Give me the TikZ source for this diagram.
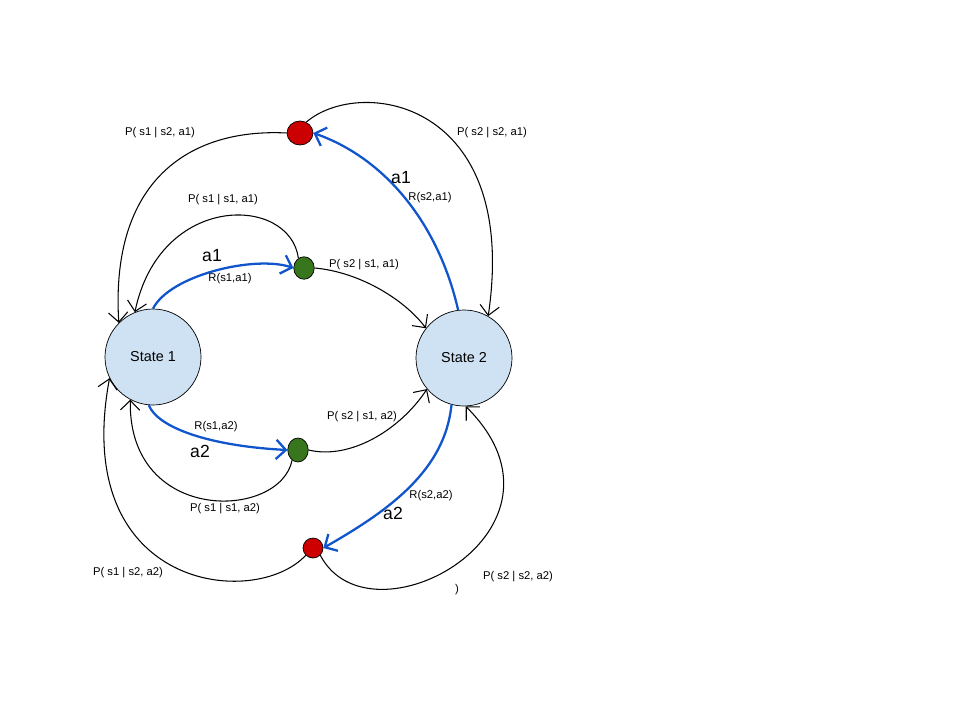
\documentclass[tikz,border=0pt]{standalone}
\usepackage{fontspec}
\setmainfont{Liberation Sans}
\usepackage{tikz}
\usetikzlibrary{arrows.meta}
\usetikzlibrary{shapes.geometric}
\definecolor{statefill}{HTML}{CFE2F3}
\definecolor{chancered}{HTML}{CC0000}
\definecolor{chancegreen}{HTML}{38761D}
\definecolor{actionblue}{HTML}{1155CC}
\tikzstyle{state}=[circle,fill=statefill,draw,minimum size=19.2mm,inner sep=0pt,font=\fontsize{8.2}{10}\selectfont]
\tikzstyle{chance}=[ellipse,draw,inner sep=0pt]
\tikzstyle{edge} = [draw,line width=0.6pt,-{Straight Barb[length=5.5pt,width=11pt]}]
\tikzstyle{reward} = [draw,line width=1.3pt,actionblue,-{Straight Barb[length=5.5pt,width=11pt]}]
\tikzstyle{weight} = [font=\fontsize{6.4}{7}\selectfont,inner sep=0pt]
\tikzstyle{action} = [font=\fontsize{10}{12}\selectfont,inner sep=0pt]

\begin{document}
\begin{tikzpicture}[x=0.2mm,y=-0.2mm]
    \useasboundingbox (0,0) rectangle (960,720);
    % First we draw the states
    \foreach \pos/\name/\label in {{(153,357)/s1/State 1}, {(464,358)/s2/State 2}}
        \node[state] (\name) at \pos {\label};

    % Then the chance nodes, one for each state and action
    \foreach \pos/\name/\col/\w/\h in {{(300,133)/rtop/chancered/5.2/4.8}, {(304,268)/gtop/chancegreen/4.1/4.5}, {(298,450)/gbot/chancegreen/4.1/4.8}, {(313,548)/rbot/chancered/4/4}}
        \node[chance,fill=\col,minimum width=\w mm,minimum height=\h mm] (\name) at \pos {};

    % Actions with their rewards
    \foreach \source/\ax/\ay/\bx/\by/\dest in {s1.90/170/275/255/255/gtop.west, s1.265/158/428/210/446/gbot.west, s2.97/440/230/390/160/rtop.east, s2.255/445/470/390/510/rbot.east}
        \path[reward] (\source) .. controls (\ax,\ay) and (\bx,\by) .. (\dest);

    % Transitions back to the states
    \foreach \source/\ax/\ay/\bx/\by/\dest in {gtop.120/290/195/160/192/s1.112, rtop.west/190/128/110/180/s1.135, rtop.60/360/76/520/100/s2.60, gtop.east/360/272/405/300/s2.142, gbot.east/350/460/400/430/s2.-140, gbot.-120/280/520/128/525/s1.-118, rbot.-135/255/610/70/590/s1.-154, rbot.-45/370/650/590/530/s2.-88}
        \path[edge] (\source) .. controls (\ax,\ay) and (\bx,\by) .. (\dest);

    % Probabilities and rewards
    \foreach \pos/\name/\label in {{(160,133)/ps1s2a1/P( s1 | s2, a1)}, {(223,200)/ps1s1a1/P( s1 | s1, a1)}, {(364,265)/ps2s1a1/P( s2 | s1, a1)}, {(492,133)/ps2s2a1/P( s2 | s2, a1)}, {(230,279)/rs1a1/R(s1,a1)}, {(430,198)/rs2a1/R(s2,a1)}, {(216,427)/rs1a2/R(s1,a2)}, {(362,417)/ps2s1a2/P( s2 | s1, a2)}, {(225,509)/ps1s1a2/P( s1 | s1, a2)}, {(431,496)/rs2a2/R(s2,a2)}, {(128,573)/ps1s2a2/P( s1 | s2, a2)}, {(518,577)/ps2s2a2/P( s2 | s2, a2)}, {(457,590)/paren/)}}
        \node[weight] (\name) at \pos {\label};
    \foreach \pos/\name/\label in {{(212,256)/as1a1/a1}, {(401,178)/as2a1/a1}, {(200,451)/as1a2/a2}, {(393,513)/as2a2/a2}}
        \node[action] (\name) at \pos {\label};
\end{tikzpicture}
\end{document}
